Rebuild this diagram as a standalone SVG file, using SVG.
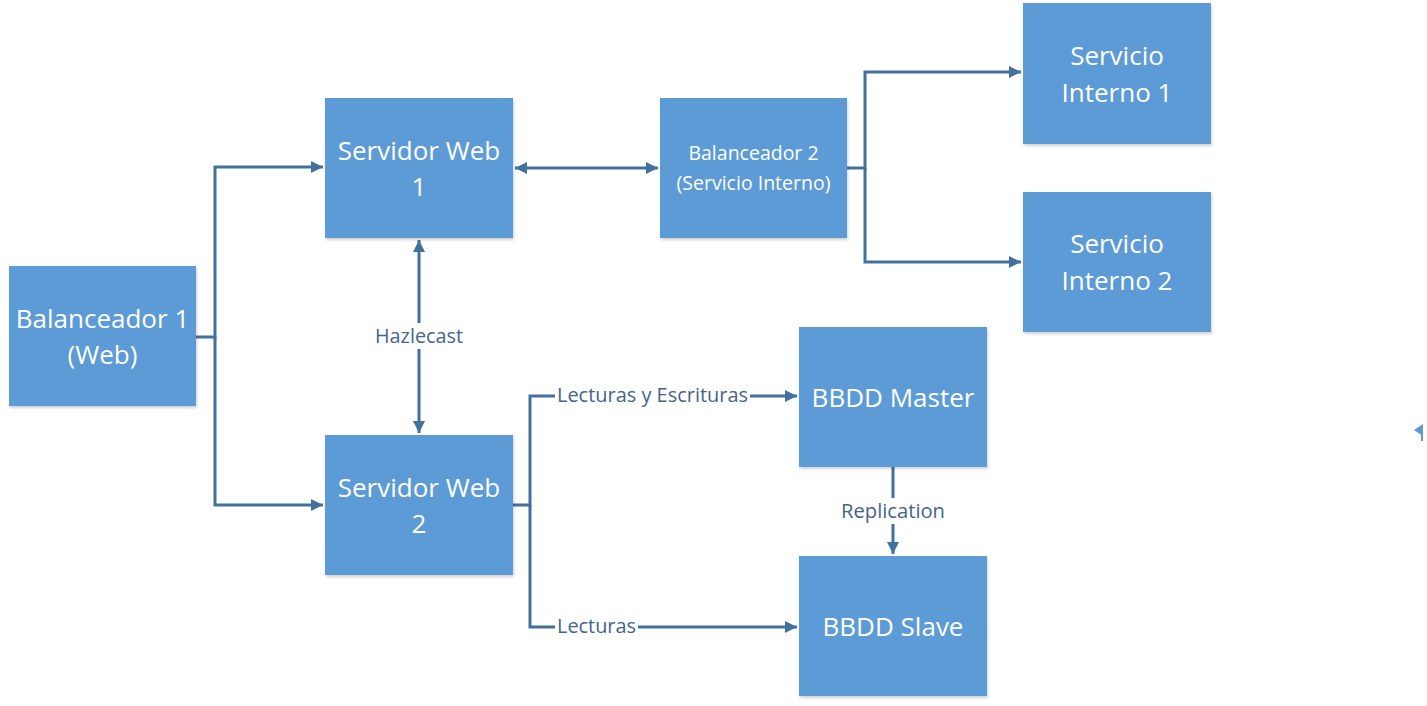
<svg xmlns="http://www.w3.org/2000/svg" width="1427" height="706" viewBox="0 0 1427 706">
<style>
.box{fill:#5B9BD5;filter:url(#sh)}
.t{font-family:"Open Sans","Liberation Sans",sans-serif;fill:#FFFFFF;text-anchor:middle}
.big{font-size:26px}
.mid{font-size:19.5px}
.lbl{font-family:"Open Sans","Liberation Sans",sans-serif;font-size:19.5px;fill:#44648A;text-anchor:middle}
.c{fill:none;stroke:#41719C;stroke-width:3}
.bg{fill:#FFFFFF}
</style>
<defs>
<filter id="sh" x="-5%" y="-5%" width="115%" height="115%">
<feDropShadow dx="1" dy="2" stdDeviation="1.5" flood-color="#000" flood-opacity="0.18"/>
</filter>
<marker id="a" viewBox="0 0 10 10" refX="10" refY="5" markerWidth="4" markerHeight="4" orient="auto-start-reverse" markerUnits="strokeWidth">
<path d="M0,0 L10,5 L0,10 z" fill="#41719C"/>
</marker>
</defs>
<rect width="1427" height="706" fill="#FFFFFF"/>
<g id="connectors">
<path class="c" d="M196,337 H215 V167 H323" marker-end="url(#a)"/>
<path class="c" d="M215,337 V505 H323" marker-end="url(#a)"/>
<path class="c" d="M515,168 H658" marker-start="url(#a)" marker-end="url(#a)"/>
<path class="c" d="M419,240 V433" marker-start="url(#a)" marker-end="url(#a)"/>
<path class="c" d="M847,168 H865 V72 H1021" marker-end="url(#a)"/>
<path class="c" d="M865,168 V262 H1021" marker-end="url(#a)"/>
<path class="c" d="M513,505 H530 V396 H797" marker-end="url(#a)"/>
<path class="c" d="M530,505 V627 H797" marker-end="url(#a)"/>
<path class="c" d="M893,467 V554" marker-end="url(#a)"/>
<rect class="bg" x="372" y="323" width="94" height="26"/>
<text class="lbl" x="419" y="343" textLength="88" lengthAdjust="spacingAndGlyphs">Hazlecast</text>
<rect class="bg" x="555" y="382" width="195" height="26"/>
<text class="lbl" x="652.5" y="402" textLength="191" lengthAdjust="spacingAndGlyphs">Lecturas y Escrituras</text>
<rect class="bg" x="555" y="613" width="83" height="26"/>
<text class="lbl" x="596.5" y="633" textLength="79" lengthAdjust="spacingAndGlyphs">Lecturas</text>
<rect class="bg" x="838" y="498" width="110" height="26"/>
<text class="lbl" x="893" y="518" textLength="104" lengthAdjust="spacingAndGlyphs">Replication</text>
</g>
<g id="bal1">
<rect class="box" x="9" y="266" width="187" height="140"/>
<text class="t big" x="102.5" y="328">Balanceador 1</text>
<text class="t big" x="102.5" y="364">(Web)</text>
</g>
<g id="sw1">
<rect class="box" x="325" y="98" width="188" height="140"/>
<text class="t big" x="419" y="160">Servidor Web</text>
<text class="t big" x="419" y="196">1</text>
</g>
<g id="sw2">
<rect class="box" x="325" y="435" width="188" height="140"/>
<text class="t big" x="419" y="497">Servidor Web</text>
<text class="t big" x="419" y="533">2</text>
</g>
<g id="bal2">
<rect class="box" x="660" y="98" width="187" height="140"/>
<text class="t mid" x="753.5" y="160">Balanceador 2</text>
<text class="t mid" x="753.5" y="190">(Servicio Interno)</text>
</g>
<g id="si1">
<rect class="box" x="1023" y="3" width="188" height="141"/>
<text class="t big" x="1117" y="65">Servicio</text>
<text class="t big" x="1117" y="102">Interno 1</text>
</g>
<g id="si2">
<rect class="box" x="1023" y="192" width="188" height="140"/>
<text class="t big" x="1117" y="253">Servicio</text>
<text class="t big" x="1117" y="290">Interno 2</text>
</g>
<g id="master">
<rect class="box" x="799" y="327" width="188" height="140"/>
<text class="t big" x="893" y="407">BBDD Master</text>
</g>
<g id="slave">
<rect class="box" x="799" y="556" width="188" height="140"/>
<text class="t big" x="893" y="636">BBDD Slave</text>
</g>
<g id="fragment">
<path d="M1414,430 L1423,424 L1423,436 z" fill="#5B9BD5"/>
<path d="M1422,430 V441" stroke="#5B9BD5" stroke-width="2" fill="none"/>
</g>
</svg>
